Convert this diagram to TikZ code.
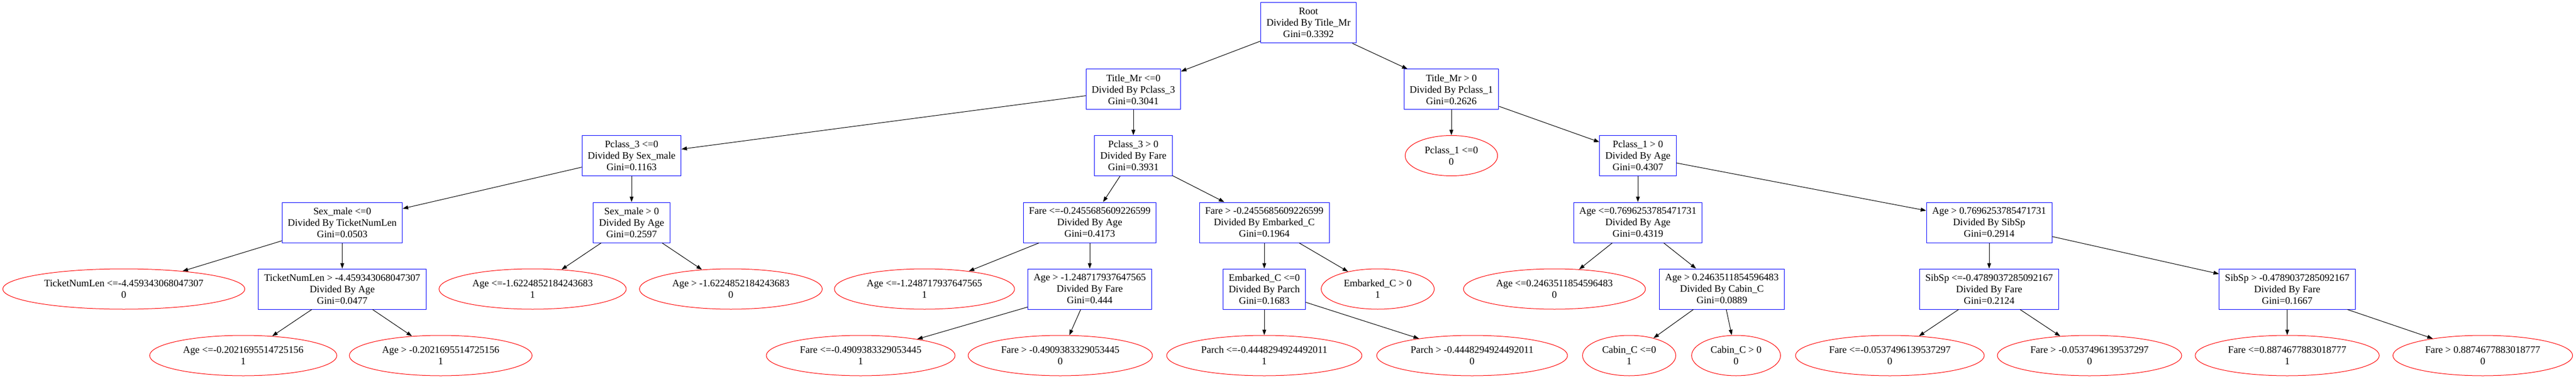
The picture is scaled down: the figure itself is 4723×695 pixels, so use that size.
\documentclass[tikz,border=0pt]{standalone}
\usepackage{fontspec}
\setmainfont{Liberation Serif}
\usetikzlibrary{arrows.meta,shapes.geometric}

\begin{document}
\begin{tikzpicture}[->,>={Triangle[length=10pt,width=7pt]},x=1pt,y=-1pt,
    line width=1pt,
    split/.style={rectangle,draw=blue,align=center,inner xsep=10.5pt,
      inner ysep=4pt,minimum height=74pt,font=\fontsize{18.2}{21}\selectfont},
    leaf/.style={ellipse,draw=red,align=center,inner xsep=11pt,
      inner ysep=4pt,minimum height=74pt,font=\fontsize{18.2}{21}\selectfont}]

  \useasboundingbox (0,0) rectangle (4723,695);

  % level 0 and 1
  \node[split] (0) at (2399,42)  {Root\\Divided By Title\_Mr\\Gini=0.3392};
  \node[split] (1) at (2078,164) {Title\_Mr <=0\\Divided By Pclass\_3\\Gini=0.3041};
  \node[split] (2) at (2661,164) {Title\_Mr > 0\\Divided By Pclass\_1\\Gini=0.2626};

  % level 2
  \node[split] (3) at (1158,285.5) {Pclass\_3 <=0\\Divided By Sex\_male\\Gini=0.1163};
  \node[split] (4) at (2078,285.5) {Pclass\_3 > 0\\Divided By Fare\\Gini=0.3931};
  \node[leaf]  (5) at (2661,285.5) {Pclass\_1 <=0\\0};
  \node[split] (6) at (3003,285.5) {Pclass\_1 > 0\\Divided By Age\\Gini=0.4307};

  % level 3
  \node[split] (7)  at (627.5,408) {Sex\_male <=0\\Divided By TicketNumLen\\Gini=0.0503};
  \node[split] (8)  at (1158,408)  {Sex\_male > 0\\Divided By Age\\Gini=0.2597};
  \node[split] (9)  at (1998,408)  {Fare <=-0.2455685609226599\\Divided By Age\\Gini=0.4173};
  \node[split] (10) at (2318,408)  {Fare > -0.2455685609226599\\Divided By Embarked\_C\\Gini=0.1964};
  \node[split] (11) at (3003,408)  {Age <=0.7696253785471731\\Divided By Age\\Gini=0.4319};
  \node[split] (12) at (3647,408)  {Age > 0.7696253785471731\\Divided By SibSp\\Gini=0.2914};

  % level 4
  \node[leaf]  (13) at (227,530)    {TicketNumLen <=-4.459343068047307\\0};
  \node[split] (14) at (627.5,530)  {TicketNumLen > -4.459343068047307\\Divided By Age\\Gini=0.0477};
  \node[leaf]  (15) at (976.5,530)  {Age <=-1.6224852184243683\\1};
  \node[leaf]  (16) at (1340,530)   {Age > -1.6224852184243683\\0};
  \node[leaf]  (17) at (1695,530)   {Age <=-1.248717937647565\\1};
  \node[split] (18) at (1998,530)   {Age > -1.248717937647565\\Divided By Fare\\Gini=0.444};
  \node[split] (19) at (2318,530)   {Embarked\_C <=0\\Divided By Parch\\Gini=0.1683};
  \node[leaf]  (20) at (2526,530)   {Embarked\_C > 0\\1};
  \node[leaf]  (21) at (2850,530)   {Age <=0.2463511854596483\\0};
  \node[split] (22) at (3157,530)   {Age > 0.2463511854596483\\Divided By Cabin\_C\\Gini=0.0889};
  \node[split] (23) at (3647,530)   {SibSp <=-0.4789037285092167\\Divided By Fare\\Gini=0.2124};
  \node[split] (24) at (4193.5,530) {SibSp > -0.4789037285092167\\Divided By Fare\\Gini=0.1667};

  % level 5
  \node[leaf] (25) at (446,652)    {Age <=-0.2021695514725156\\1};
  \node[leaf] (26) at (808,652)    {Age > -0.2021695514725156\\1};
  \node[leaf] (27) at (1578,652)   {Fare <=-0.4909383329053445\\1};
  \node[leaf] (28) at (1944,652)   {Fare > -0.4909383329053445\\0};
  \node[leaf] (29) at (2318,652)   {Parch <=-0.4448294924492011\\1};
  \node[leaf] (30) at (2699,652)   {Parch > -0.4448294924492011\\0};
  \node[leaf] (31) at (2987,652)   {Cabin\_C <=0\\1};
  \node[leaf] (32) at (3183,652)   {Cabin\_C > 0\\0};
  \node[leaf] (33) at (3465,652)   {Fare <=-0.0537496139537297\\0};
  \node[leaf] (34) at (3831,652)   {Fare > -0.0537496139537297\\0};
  \node[leaf] (35) at (4193.5,652) {Fare <=0.8874677883018777\\1};
  \node[leaf] (36) at (4552,652)   {Fare > 0.8874677883018777\\0};

  \path (0) edge (1) edge (2);
  \path (1) edge (3) edge (4);
  \path (2) edge (5) edge (6);
  \path (3) edge (7) edge (8);
  \path (4) edge (9) edge (10);
  \path (6) edge (11) edge (12);
  \path (7) edge (13) edge (14);
  \path (8) edge (15) edge (16);
  \path (9) edge (17) edge (18);
  \path (10) edge (19) edge (20);
  \path (11) edge (21) edge (22);
  \path (12) edge (23) edge (24);
  \path (14) edge (25) edge (26);
  \path (18) edge (27) edge (28);
  \path (19) edge (29) edge (30);
  \path (22) edge (31) edge (32);
  \path (23) edge (33) edge (34);
  \path (24) edge (35) edge (36);
\end{tikzpicture}
\end{document}
